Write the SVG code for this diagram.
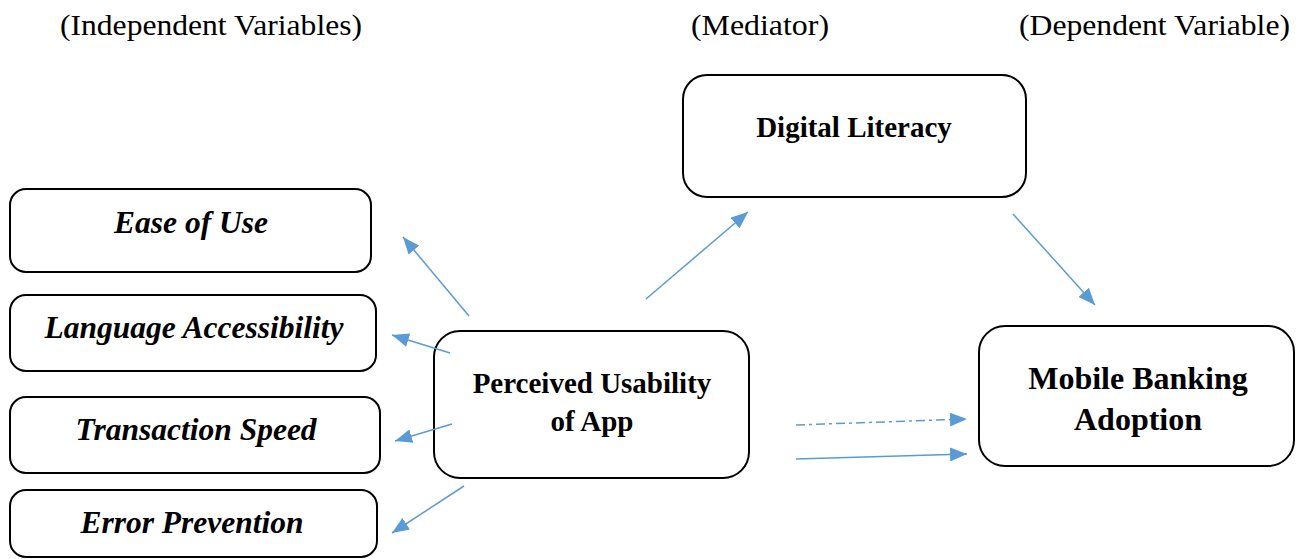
<svg xmlns="http://www.w3.org/2000/svg" width="1307" height="559" viewBox="0 0 1307 559">
<style>
.box{fill:#fff;stroke:#000;stroke-width:2}
.iv{font-family:"Liberation Serif","Times New Roman",serif;font-weight:bold;font-style:italic;font-size:31.5px;text-anchor:middle;fill:#000}
.bt{font-family:"Liberation Serif","Times New Roman",serif;font-weight:bold;text-anchor:middle;fill:#000}
.hd{font-family:"Liberation Serif","Times New Roman",serif;font-size:30px;fill:#000}
.cn{stroke:#5B9BD5;stroke-width:1.5;fill:none;marker-end:url(#ah)}
</style>
<defs>
<marker id="ah" markerUnits="userSpaceOnUse" markerWidth="18" markerHeight="14" refX="17" refY="7" orient="auto">
<path d="M0,0 L17,7 L0,14 z" fill="#5B9BD5"/>
</marker>
</defs>
<rect width="1307" height="559" fill="#fff"/>
<g id="headers">
<text class="hd" x="60" y="35" textLength="302" lengthAdjust="spacingAndGlyphs">(Independent Variables)</text>
<text class="hd" x="691" y="35" textLength="138" lengthAdjust="spacingAndGlyphs">(Mediator)</text>
<text class="hd" x="1019" y="35" textLength="271" lengthAdjust="spacingAndGlyphs">(Dependent Variable)</text>
</g>
<g id="ease-of-use">
<rect class="box" x="10" y="189" width="361" height="83" rx="16"/>
<text class="iv" x="191" y="233">Ease of Use</text>
</g>
<g id="language-accessibility">
<rect class="box" x="10" y="295" width="366" height="76" rx="16"/>
<text class="iv" x="194" y="338">Language Accessibility</text>
</g>
<g id="transaction-speed">
<rect class="box" x="10" y="397" width="370" height="76" rx="16"/>
<text class="iv" x="196" y="440">Transaction Speed</text>
</g>
<g id="error-prevention">
<rect class="box" x="10" y="490" width="367" height="67" rx="16"/>
<text class="iv" x="192" y="533">Error Prevention</text>
</g>
<g id="perceived-usability">
<rect class="box" x="434" y="331" width="315" height="147" rx="26"/>
<text class="bt" x="592" y="393" font-size="29">Perceived Usability</text>
<text class="bt" x="592" y="431" font-size="29">of App</text>
</g>
<g id="digital-literacy">
<rect class="box" x="683" y="75" width="343" height="122" rx="24"/>
<text class="bt" x="854" y="137" font-size="29">Digital Literacy</text>
</g>
<g id="mobile-banking-adoption">
<rect class="box" x="979" y="326" width="315" height="140" rx="26"/>
<text class="bt" x="1138" y="389" font-size="32">Mobile Banking</text>
<text class="bt" x="1138" y="430" font-size="32">Adoption</text>
</g>
<g id="connectors">
<line class="cn" x1="469" y1="316" x2="403" y2="237"/>
<line class="cn" x1="450" y1="353" x2="392" y2="335"/>
<line class="cn" x1="452" y1="424" x2="395" y2="441"/>
<line class="cn" x1="464" y1="486" x2="392" y2="533"/>
<line class="cn" x1="646" y1="299" x2="748" y2="212"/>
<line class="cn" x1="1013" y1="214" x2="1095" y2="305"/>
<line class="cn" x1="796" y1="425" x2="967" y2="419" stroke-dasharray="9 4 3 4"/>
<line class="cn" x1="796" y1="459" x2="967" y2="454"/>
</g>
</svg>
